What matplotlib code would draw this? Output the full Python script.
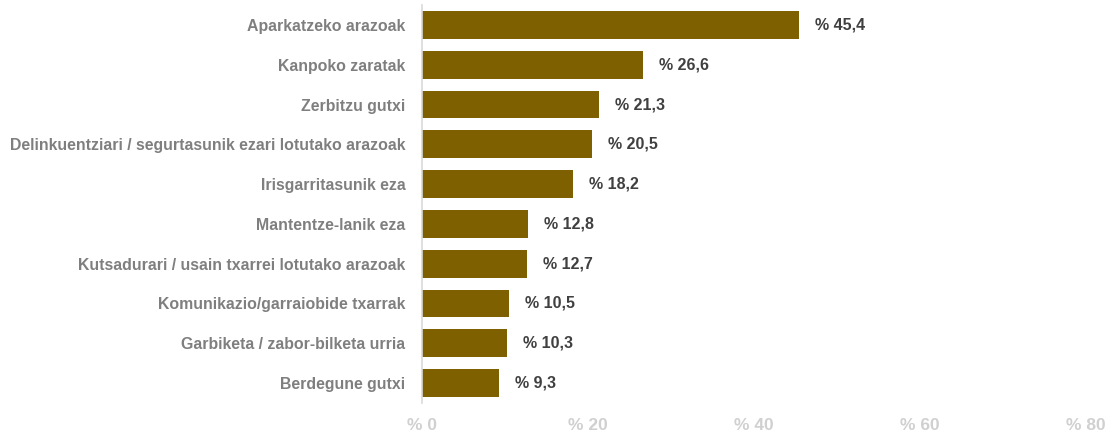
import matplotlib
matplotlib.use("Agg")
import matplotlib.pyplot as plt

categories = [
    "Aparkatzeko arazoak",
    "Kanpoko zaratak",
    "Zerbitzu gutxi",
    "Delinkuentziari / segurtasunik ezari lotutako arazoak",
    "Irisgarritasunik eza",
    "Mantentze-lanik eza",
    "Kutsadurari / usain txarrei lotutako arazoak",
    "Komunikazio/garraiobide txarrak",
    "Garbiketa / zabor-bilketa urria",
    "Berdegune gutxi",
]
values = [45.4, 26.6, 21.3, 20.5, 18.2, 12.8, 12.7, 10.5, 10.3, 9.3]
xticks = [0, 20, 40, 60, 80]

plt.rcParams['font.family'] = ['Liberation Sans', 'DejaVu Sans']

fig = plt.figure(figsize=(11.1, 4.32), dpi=100)
ax = fig.add_axes([422/1110, 1-403/432, (1086-422)/1110, (403-5)/432])

y = list(range(len(categories)))
ax.barh(y, values, height=0.7, color="#7f6000", edgecolor="none")
ax.set_ylim(len(categories)-0.5, -0.5)
ax.set_xlim(0, 80)
ax.set_yticks(y)
ax.set_yticklabels(categories, fontsize=11.4, fontweight="bold", color="#7f7f7f")
ax.set_xticks(xticks)
ax.set_xticklabels([f"% {t}" for t in xticks], fontsize=12.5, fontweight="bold", color="#d0d0d0")
ax.tick_params(axis="y", length=0, pad=12)
ax.tick_params(axis="x", length=0, pad=10.5)
for s in ["top", "right", "bottom"]:
    ax.spines[s].set_visible(False)
ax.spines["left"].set_color("#d9d9d9")
ax.spines["left"].set_linewidth(1.2)

for yi, v in zip(y, values):
    ax.annotate(f"% {v:.1f}".replace(".", ","), xy=(v, yi), xytext=(11.5, 0),
                textcoords="offset points", va="center", ha="left",
                fontsize=11.5, fontweight="bold", color="#404040")

fig.savefig("out.png", dpi=100)
